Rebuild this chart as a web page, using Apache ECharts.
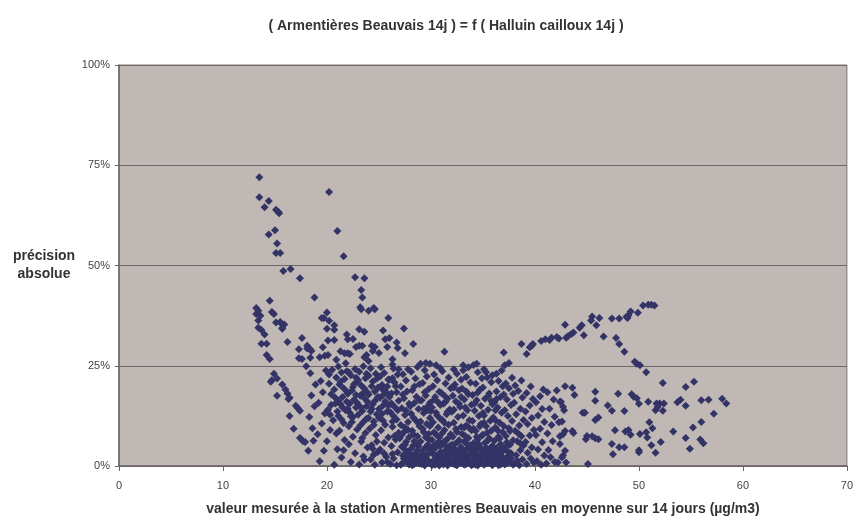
<!DOCTYPE html>
<html>
<head>
<meta charset="utf-8">
<script src="https://cdn.jsdelivr.net/npm/echarts@6/dist/echarts.min.js"></script>
<style>
  html, body { margin: 0; padding: 0; background: #ffffff; }
  #chart { width: 856px; height: 521px; }
</style>
</head>
<body>
<div id="chart"></div>
<script>
// Axis settings
const xTicks = [0, 10, 20, 30, 40, 50, 60, 70];
const yTicks = [0, 25, 50, 75, 100];

// Points: [mean concentration (µg/m3), absolute precision (%)]
const upperStreak = [
  [13.5,72.0],[20.2,68.3],[13.5,67.0],[14.4,66.1],[14.0,64.5],[15.1,63.9],[15.3,63.4],[15.4,63.0],
  [15.0,58.8],[14.4,57.7],[21.0,58.6],[15.2,55.5],[15.1,53.1],[15.5,53.1],[21.6,52.3],[15.8,48.6],
  [16.5,49.1],[17.4,46.8],[22.7,47.1],[23.6,46.8],[23.3,43.9],[23.4,42.0],[14.5,41.2],[18.8,42.0]
];

const midPoints = [
  [23.2,39.6],[23.3,39.1],[24.0,38.7],[24.5,39.4],[24.6,39.1],
  [13.2,39.4],[13.4,38.7],[13.2,37.9],[13.6,37.5],[13.4,36.3],[13.4,34.5],[13.7,33.9],[14.0,32.8],
  [14.7,38.4],[14.9,37.9],[15.1,35.8],[15.5,35.9],[15.7,35.3],[15.9,35.3],[15.7,34.2],
  [25.9,36.9],[27.4,34.3],[25.4,33.8],[20.0,38.3],[19.5,36.9],[19.7,36.9],[20.2,36.2],
  [20.7,35.1],[20.7,34.0],[20.0,34.2],[23.1,34.1],[23.6,33.5],[13.7,30.5],[14.2,30.5],
  [16.2,30.9],[17.6,31.9],[20.1,31.3],[20.7,31.4],[21.9,32.8],[22.0,31.6],[22.5,31.7],
  [23.1,30.0],[22.8,29.7],[23.4,30.0],[24.3,30.0],[24.6,29.7],[24.4,28.7],
  [25.6,31.6],[26.0,31.9],[25.8,29.7],[26.7,30.8],[26.8,29.4],[28.3,30.4],[31.3,28.5],
  [17.3,29.1],[18.1,30.0],[18.4,29.1],[18.1,29.3],[18.5,28.7],
  [17.3,26.9],[17.6,26.7],[18.4,27.0],[19.3,27.1],[19.6,29.6],[20.1,27.7],
  [20.9,26.5],[21.3,28.6],[21.7,28.1],[22.0,28.1],[14.2,27.7],[14.5,26.7],
  [23.6,27.1],[23.8,27.7],[26.3,25.3],[27.5,28.1],[15.7,34.4],
  [19.8,27.5],[22.2,27.9],[24.0,26.2],[25.0,28.2],[26.3,26.6]
];

const leftStreak = [
  [14.9,23.0],[14.7,21.4],[14.6,21.0],[15.2,21.8],[15.7,20.3],[16.0,19.1],[16.2,18.1],[16.4,17.0],
  [16.3,16.7],[15.2,17.5],[17.0,15.0],[17.2,14.4],[17.4,13.8],[16.4,12.5],[16.8,9.3],[17.4,7.0],
  [17.7,6.2],[17.9,6.0],[18.2,3.8],[18.0,24.9]
];

const gridBand = [
  [29.0,25.5],[29.5,25.7],[29.9,25.5],[33.1,25.1],[33.6,24.6],[34.1,25.2],[34.4,25.5],[35.1,24.1],
  [35.3,23.4],[35.9,22.6],[36.3,23.0],[36.8,23.8],[37.1,25.1],[37.5,25.7]
];

const mainCloud = [
  [18.6,9.4],[18.3,12.2],[18.8,14.9],[18.5,17.6],[18.9,20.3],[18.4,23.1],[18.7,6.3],
  [19.3,1.2],[19.7,3.8],[19.1,7.9],[19.5,10.6],[19.8,13.1],[19.2,15.8],[19.6,18.4],[19.4,21.2],[19.9,23.8],
  [20.0,6.2],[20.7,0.3],[20.3,9.0],[20.6,11.4],[20.1,14.0],[20.8,15.6],[20.4,17.9],[20.2,20.5],[20.9,22.1],[20.5,24.0],[20.7,19.1],[20.3,12.8],[20.9,8.1],
  [21.0,4.2],[21.4,2.1],[21.7,6.5],[21.2,8.8],[21.6,10.7],[21.1,12.5],[21.8,13.9],[21.3,15.4],[21.5,17.2],[21.9,18.6],[21.2,20.3],[21.7,21.7],[21.4,23.3],[21.1,24.8],[21.8,25.6],[21.6,3.9],
  [22.3,1.0],[22.7,3.2],[22.1,5.4],[22.5,7.3],[22.9,9.1],[22.4,11.0],[22.2,13.3],[22.8,14.6],[22.6,16.5],[22.0,18.0],[22.5,19.7],[22.9,21.0],[22.3,22.6],[22.7,24.2],[22.1,9.9],[22.8,17.7],
  [23.1,0.4],[23.5,2.4],[23.9,4.6],[23.3,6.1],[23.7,8.2],[23.2,10.1],[23.8,11.8],[23.4,13.7],[23.0,15.2],[23.6,16.9],[23.9,18.3],[23.3,20.1],[23.7,21.9],[23.1,23.5],[23.5,24.9],[23.8,14.9],[23.4,7.0],
  [24.2,1.6],[24.6,0.3],[24.9,3.5],[24.3,5.2],[24.7,7.7],[24.1,9.3],[24.5,11.1],[24.8,12.9],[24.3,14.3],[24.6,16.2],[24.0,17.8],[24.9,19.6],[24.4,21.1],[24.7,23.0],[24.2,24.4],[24.8,6.1],[24.5,2.8],
  [25.3,0.9],[25.7,2.3],[25.1,4.1],[25.5,5.8],[25.9,7.1],[25.2,8.9],[25.6,10.3],[25.0,12.0],[25.8,13.6],[25.4,15.1],[25.1,17.0],[25.7,18.4],[25.3,20.2],[25.9,21.6],[25.5,23.2],[25.8,1.0],[25.2,24.6],
  [26.1,0.5],[26.4,1.9],[26.8,3.4],[26.2,5.0],[26.6,6.6],[26.9,8.3],[26.3,9.8],[26.7,11.6],[26.1,13.4],[26.5,14.8],[26.9,16.3],[26.2,18.1],[26.6,19.9],[26.0,21.5],[26.8,22.8],[26.4,24.3],[26.7,0.2],[26.3,3.0],
  [27.1,0.3],[27.5,1.2],[27.9,0.4],[27.3,2.6],[27.7,3.5],[27.2,4.8],[27.6,6.0],[27.9,7.2],[27.4,8.5],[27.1,10.2],[27.8,11.0],[27.5,12.7],[27.2,14.4],[27.9,15.5],[27.4,16.9],[27.7,18.6],[27.1,19.8],[27.6,21.3],[27.3,22.9],[27.8,24.1],[27.5,9.6],[27.0,6.9],
  [28.2,0.2],[28.6,0.9],[28.9,2.0],[28.3,1.6],[28.5,3.1],[28.1,4.3],[28.8,4.9],[28.4,6.2],[28.7,7.4],[28.2,8.8],[28.9,9.9],[28.5,11.5],[28.1,13.0],[28.8,14.2],[28.4,15.7],[28.6,17.3],[28.2,18.9],[28.9,20.4],[28.5,21.8],[28.1,23.5],[28.7,24.7],[28.3,12.1],[28.6,5.6],
  [29.1,0.5],[29.4,0.1],[29.8,0.8],[29.2,1.9],[29.6,2.6],[29.9,3.7],[29.3,4.1],[29.7,5.3],[29.0,6.1],[29.5,7.2],[29.8,8.0],[29.2,9.3],[29.6,10.5],[29.9,12.0],[29.3,13.2],[29.7,14.9],[29.1,16.4],[29.5,17.6],[29.8,19.2],[29.2,20.7],[29.6,22.3],[29.4,23.9],[29.0,11.1],[29.9,15.8],
  [30.1,0.2],[30.5,0.7],[30.8,0.1],[30.3,1.5],[30.7,2.2],[30.2,3.0],[30.9,3.4],[30.4,4.4],[30.6,5.7],[30.1,6.5],[30.8,7.1],[30.3,8.4],[30.7,9.6],[30.2,10.9],[30.9,11.8],[30.5,13.3],[30.1,14.6],[30.7,15.9],[30.4,17.2],[30.8,18.5],[30.2,19.9],[30.6,21.4],[30.3,22.8],[30.9,24.4],[30.5,25.1],
  [31.2,0.4],[31.6,0.1],[31.9,0.9],[31.3,1.8],[31.7,2.5],[31.1,3.3],[31.5,4.2],[31.8,5.0],[31.2,5.9],[31.6,6.8],[31.9,7.9],[31.3,9.0],[31.7,10.3],[31.1,11.5],[31.5,12.9],[31.8,14.1],[31.2,15.5],[31.6,16.8],[31.0,18.2],[31.9,19.4],[31.4,20.6],[31.7,22.1],[31.1,23.6],
  [32.1,0.6],[32.5,0.2],[32.9,0.8],[32.3,1.6],[32.7,2.3],[32.1,3.1],[32.6,3.8],[32.9,4.7],[32.3,5.5],[32.7,6.4],[32.1,7.3],[32.5,8.5],[32.9,9.7],[32.2,10.8],[32.6,12.2],[32.0,13.5],[32.8,14.8],[32.4,16.1],[32.1,17.5],[32.7,18.9],[32.3,20.3],[32.9,21.5],[32.5,23.0],[32.2,24.1],
  [33.2,0.3],[33.6,0.9],[33.9,0.2],[33.3,1.7],[33.7,2.6],[33.1,3.4],[33.5,4.3],[33.8,5.2],[33.2,6.1],[33.6,7.0],[33.0,8.0],[33.9,8.9],[33.4,10.1],[33.7,11.4],[33.1,12.6],[33.5,13.9],[33.9,15.3],[33.2,16.6],[33.6,17.9],[33.0,19.3],[33.8,20.8],[33.4,22.2],[33.1,23.9],
  [34.1,0.5],[34.5,0.1],[34.8,0.7],[34.2,1.5],[34.6,2.3],[34.9,3.1],[34.3,3.9],[34.7,4.8],[34.1,5.7],[34.5,6.6],[34.9,7.6],[34.3,8.7],[34.7,9.9],[34.0,11.2],[34.6,12.5],[34.2,13.8],[34.8,15.0],[34.4,16.4],[34.0,17.7],[34.7,19.0],[34.3,20.5],[34.9,21.9],[34.5,23.4],
  [35.1,0.3],[35.5,0.8],[35.9,0.2],[35.3,1.6],[35.7,2.4],[35.1,3.2],[35.6,4.1],[35.9,5.0],[35.2,5.8],[35.6,6.9],[35.0,7.8],[35.8,8.8],[35.3,9.9],[35.7,11.3],[35.1,12.6],[35.5,14.0],[35.9,15.4],[35.2,16.8],[35.6,18.1],[35.0,19.6],[35.8,20.9],[35.4,22.1],
  [36.1,0.6],[36.5,0.2],[36.8,1.0],[36.2,1.9],[36.6,2.8],[36.9,3.7],[36.3,4.5],[36.7,5.4],[36.1,6.3],[36.5,7.3],[36.9,8.4],[36.2,9.6],[36.6,10.8],[36.0,12.1],[36.8,13.3],[36.4,14.6],[36.1,15.9],[36.7,17.2],[36.3,18.6],[36.9,19.9],[36.5,21.2],
  [37.1,0.4],[37.5,1.1],[37.9,0.3],[37.3,2.2],[37.7,3.2],[37.1,4.1],[37.6,5.3],[37.9,6.4],[37.2,7.5],[37.6,8.7],[37.0,10.0],[37.8,11.2],[37.4,12.5],[37.1,13.9],[37.7,15.2],[37.3,16.6],[37.9,18.0],[37.5,19.4],[37.2,20.6],[37.8,22.0],
  [38.1,0.8],[38.5,0.2],[38.8,1.6],[38.2,2.7],[38.6,3.9],[38.9,5.1],[38.3,6.2],[38.7,7.4],[38.1,8.8],[38.5,10.1],[38.9,11.5],[38.2,12.9],[38.6,14.3],[38.0,15.8],[38.8,17.1],[38.4,18.7],[38.1,20.1],[38.7,21.3],
  [39.2,0.5],[39.6,1.9],[39.9,0.9],[39.3,3.3],[39.7,4.6],[39.1,6.0],[39.5,7.6],[39.9,9.0],[39.3,10.5],[39.7,12.0],[39.1,13.6],[39.5,15.1],[39.8,16.7],[39.2,18.2],[39.6,19.8],
  [40.2,1.2],[40.6,0.3],[40.9,2.6],[40.3,4.1],[40.7,5.9],[40.1,7.7],[40.5,9.3],[40.9,11.0],[40.3,12.6],[40.7,14.2],[40.1,15.9],[40.5,17.4],[40.8,19.1],
  [41.1,0.6],[41.5,2.2],[41.9,1.0],[41.3,4.0],[41.7,6.2],[41.2,8.1],[41.6,10.2],[41.9,12.3],[41.4,14.3],[41.8,16.6],[41.2,18.4],
  [42.2,0.9],[42.7,2.6],[42.4,5.5],[42.9,8.7],[42.3,10.9],[42.8,13.9],[42.5,16.0],[42.1,18.8],[42.9,19.9]
];

// Extra readings in the densest part of the cloud
const denseCore = [
  [27.3,0.8],[27.8,2.0],[27.5,5.3],[27.2,7.8],[27.8,9.0],[27.6,13.8],[27.3,17.8],
  [28.4,0.5],[28.9,0.6],[28.2,2.6],[28.7,3.9],[28.3,7.9],[28.8,10.6],[28.4,19.8],
  [29.5,1.3],[29.1,3.0],[29.5,4.6],[29.8,6.6],[29.3,8.5],[29.7,13.9],[29.4,18.4],
  [30.4,0.3],[30.9,1.1],[30.5,2.6],[30.3,5.1],[30.8,6.0],[30.5,7.8],[30.6,12.6],[30.3,16.5],
  [31.4,0.8],[31.9,1.6],[31.4,3.0],[31.8,3.8],[31.4,6.3],[31.1,8.2],[31.6,13.5],[31.3,17.5],
  [32.3,0.4],[32.7,1.2],[32.4,2.7],[32.8,3.2],[32.2,4.4],[32.6,5.9],[32.4,9.2],[32.7,15.5],[32.2,19.6],
  [33.4,0.5],[33.8,1.3],[33.5,2.1],[33.1,2.6],[33.9,3.7],[33.4,5.6],[33.3,7.5],[33.7,9.5],[33.3,14.6],
  [34.3,0.3],[34.7,1.1],[34.4,2.8],[34.9,1.9],[34.1,4.4],[34.6,5.4],[34.4,7.3],[34.1,9.3],[34.5,18.3],
  [35.3,0.6],[35.8,1.2],[35.4,2.8],[35.9,3.3],[35.3,4.6],[35.5,6.4],[35.4,8.3],[35.1,10.8],[35.5,17.4],
  [36.3,0.9],[36.7,0.4],[36.4,2.4],[36.9,2.2],[36.3,3.8],[36.6,6.8],[36.4,8.9],[36.2,11.4],
  [37.3,0.7],[37.7,1.9],[37.4,3.6],[37.3,5.9],[37.5,9.4],
  [38.3,1.3],[38.6,5.6],[38.4,8.1],
  [21.4,11.6],[21.1,16.3],[21.6,19.4],[22.5,12.2],[22.2,15.6],[22.6,20.4],[23.5,11.0],[23.2,17.5],
  [23.6,19.3],[24.5,10.2],[24.2,13.6],[24.6,18.6],[25.4,11.3],[25.6,16.1],[25.3,19.2],[26.4,12.5],
  [26.2,15.6],[26.5,20.8],[26.5,7.5],[25.5,3.1],[24.4,4.3],[23.6,1.5]
];

// Further readings: the upper-left mass and the low band
const upperMass = [
  [20.4,15.2],[20.8,17.0],[20.2,22.8],[21.0,13.6],[21.5,14.6],[21.9,16.0],[21.3,21.0],[21.9,23.6],
  [22.3,12.4],[22.0,14.3],[22.9,15.8],[22.4,18.8],[22.8,22.0],[22.1,23.4],[23.0,12.8],[23.3,14.5],
  [23.9,16.0],[23.4,18.0],[23.0,21.4],[23.8,23.0],[24.0,12.0],[24.4,15.4],[24.9,17.2],[24.3,19.9],
  [24.8,21.8],[24.0,22.5],[25.3,13.0],[25.0,14.2],[25.9,15.0],[25.4,17.7],[25.8,19.8],[25.1,22.3],
  [26.3,11.1],[26.8,13.9],[26.0,17.2],[26.7,18.4],[26.3,21.9],[26.9,24.1],
  [28.0,14.9],[28.9,16.4],[29.3,14.2],[30.0,13.7],[30.9,15.2],[31.4,16.0],[32.2,14.0],[32.9,17.2],
  [33.4,18.6],[34.2,15.6],[35.0,13.2],[35.8,16.2],[36.3,16.7],[37.0,17.8],[29.9,10.0],[31.3,10.8],
  [33.2,9.6],[34.8,10.5],[36.2,13.9]
];

const lowBand = [
  [27.4,1.9],[27.9,2.8],[27.5,4.1],[28.0,1.1],[28.6,2.4],[28.3,5.1],[29.0,1.2],[29.7,1.5],
  [29.3,2.9],[29.9,4.7],[30.2,1.0],[30.6,1.4],[30.0,4.0],[30.9,4.9],[31.0,0.8],[31.5,1.3],
  [31.0,2.4],[31.9,3.0],[31.4,5.1],[32.0,1.0],[32.5,1.7],[32.9,2.7],[32.4,3.6],[32.0,5.3],
  [33.0,1.0],[33.5,1.5],[33.3,3.0],[33.9,4.4],[34.0,0.9],[34.5,1.6],[34.1,2.6],[34.8,3.9],
  [34.4,5.1],[35.0,1.1],[35.5,1.9],[35.2,3.9],[35.8,4.3],[36.0,1.3],[36.5,1.6],[36.1,3.1],
  [36.8,4.4],[37.0,1.5],[37.6,2.7],[37.2,4.8]
];

const arcPoints = [
  [37.0,28.3],[38.7,30.4],[39.2,27.9],[39.7,30.0],[39.8,30.4],[39.5,29.6],
  [40.6,31.2],[41.0,31.6],[41.4,31.4],[41.6,32.0],[42.1,32.2],[42.3,31.8],[43.0,32.0],[43.2,32.4],[43.5,32.9],[43.7,33.3],
  [42.9,35.2],[44.3,34.5],[44.5,35.1],[44.7,32.6],[45.4,36.3],[45.5,37.3],[46.2,36.9],[45.9,35.1],[46.6,32.3],
  [47.4,36.8],[48.1,36.8],[47.8,31.9],[48.1,30.4],[48.6,28.5],[48.8,37.2],[48.9,36.9],[49.0,37.6],[49.2,38.5],[49.9,38.2],
  [50.4,40.0],[50.9,40.2],[51.2,40.2],[51.5,40.0],[49.6,26.0],[49.8,25.5],[50.1,25.1],[50.7,23.4]
];

const rightScatter = [
  [52.3,20.7],[43.6,19.5],[43.8,17.7],[45.8,18.5],[45.8,16.3],[48.0,18.0],[49.3,17.9],[49.5,17.3],[49.8,16.9],[50.0,15.5],
  [50.9,16.0],[51.7,15.6],[52.0,15.6],[52.4,15.6],[51.8,14.7],[51.6,13.9],[52.3,13.8],[54.5,19.7],[55.3,21.0],[54.0,16.5],
  [53.7,15.9],[54.5,15.0],[56.0,16.4],[56.7,16.5],[58.0,16.8],[58.4,15.6],[57.2,13.0],[56.0,11.0],[55.2,9.6],[53.3,8.6],
  [55.9,6.6],[56.2,5.7],[54.5,7.0],[54.9,4.3],[51.3,9.4],[51.0,10.9],[52.1,6.0],[51.6,3.3],[51.2,5.2],[50.1,8.0],
  [50.7,8.4],[50.8,7.1],[49.2,7.8],[49.0,9.0],[48.7,8.6],[47.7,8.9],[47.4,5.5],[48.1,4.7],[48.6,4.7],[47.5,2.9],
  [50.0,3.9],[50.0,3.4],[47.0,15.1],[47.4,13.8],[48.6,13.7],[44.6,13.3],[44.8,13.3],[45.8,11.5],[46.1,12.1],[43.6,8.7],
  [43.7,8.2],[45.0,7.5],[44.9,6.7],[45.5,7.4],[45.8,6.9],[46.1,6.7],[45.1,0.5],[42.7,7.9],[42.4,7.4],[42.6,11.1],
  [42.7,14.8],[42.4,16.0],[42.9,3.8],[43.0,0.9],[42.6,2.1]
];

const allPoints = [].concat(upperStreak, midPoints, leftStreak, gridBand, mainCloud, denseCore,
                            upperMass, lowBand, arcPoints, rightScatter);

const FONT = '"Liberation Sans", Arial, sans-serif';
const chart = echarts.init(document.getElementById('chart'), null, { renderer: 'canvas' });

chart.setOption({
  animation: false,
  backgroundColor: '#ffffff',
  title: {
    text: '( Armentières Beauvais 14j ) = f ( Halluin cailloux 14j )',
    left: 441,
    top: 14,
    textAlign: 'center',
    textStyle: { fontFamily: FONT, fontSize: 14, fontWeight: 'bold', color: '#333333' }
  },
  grid: {
    left: 119, right: 6, top: 65, bottom: 49,
    show: true,
    backgroundColor: '#c0b8b5',
    borderColor: '#7a7474',
    borderWidth: 1
  },
  xAxis: {
    type: 'value',
    min: xTicks[0], max: xTicks[xTicks.length - 1], interval: 10,
    name: 'valeur mesurée à la station Armentières Beauvais en moyenne sur 14 jours (µg/m3)',
    nameLocation: 'middle',
    nameGap: 36,
    nameTextStyle: { fontFamily: FONT, fontSize: 14, fontWeight: 'bold', color: '#333333' },
    axisLine: { show: true, lineStyle: { color: '#6b6666', width: 1.5 } },
    axisTick: { show: true, length: 5, lineStyle: { color: '#6b6666' } },
    axisLabel: { fontFamily: FONT, fontSize: 11, color: '#444444', margin: 14 },
    splitLine: { show: false }
  },
  yAxis: {
    type: 'value',
    min: yTicks[0], max: yTicks[yTicks.length - 1], interval: 25,
    name: 'précision\nabsolue',
    nameLocation: 'middle',
    nameRotate: 0,
    nameGap: 75,
    nameTextStyle: { fontFamily: FONT, fontSize: 14, fontWeight: 'bold', color: '#333333', lineHeight: 18, align: 'center' },
    axisLine: { show: true, lineStyle: { color: '#6b6666', width: 1.5 } },
    axisTick: { show: true, length: 4, lineStyle: { color: '#6b6666' } },
    axisLabel: { fontFamily: FONT, fontSize: 11, color: '#444444', margin: 9, formatter: '{value}%' },
    splitLine: { show: true, lineStyle: { color: '#6e6868', width: 1.2 } }
  },
  series: [{
    type: 'scatter',
    data: allPoints,
    symbol: 'diamond',
    symbolSize: 8,
    itemStyle: { color: '#333366', opacity: 1 },
    emphasis: { disabled: true }
  }]
});
</script>
</body>
</html>
